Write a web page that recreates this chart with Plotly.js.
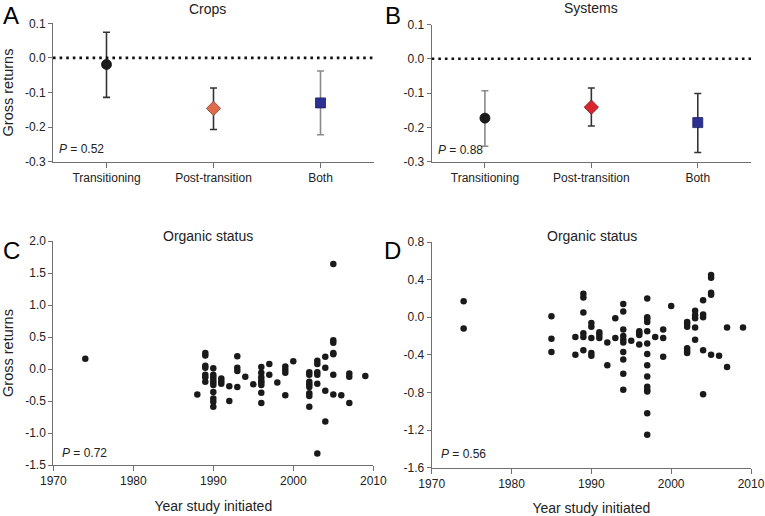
<!DOCTYPE html>
<html>
<head>
<meta charset="utf-8">
<script src="https://cdn.plot.ly/plotly-3.0.1.min.js"></script>
<style>html,body{margin:0;padding:0;background:#fff;}#chart{width:765px;height:516px;}</style>
</head>
<body>
<div id="chart"></div>
<script>
// ---------- DATA ----------
var groups = ["Transitioning", "Post-transition", "Both"];

// Panel A: Crops
var cropsMean  = [-0.019, -0.146, -0.130];
var cropsUpper = [0.074, -0.087, -0.038];
var cropsLower = [-0.114, -0.207, -0.222];

// Panel B: Systems
var sysMean  = [-0.173, -0.141, -0.186];
var sysUpper = [-0.093, -0.085, -0.101];
var sysLower = [-0.255, -0.196, -0.273];

var topTickVals = [-0.3, -0.2, -0.1, 0, 0.1];
var topTickText = ["-0.3", "-0.2", "-0.1", "0.0", "0.1"];

// Panel C: crops, gross returns vs year study initiated
var cYears = [1974, 1988,
  1989,1989,1989,1989,1989,1989,1989,
  1990,1990,1990,1990,1990,1990,1990,1990,1990,1990,
  1991,1991,1991, 1992,1992, 1993,1993,1993,1993, 1994, 1995,
  1996,1996,1996,1996,1996,1996,1996,1996,
  1997,1997, 1998, 1999,1999,1999,1999, 2000,
  2002,2002,2002,2002,2002,2002,2002,2002,
  2003,2003,2003,2003,2003,2003,
  2004,2004,2004,2004,
  2005,2005,2005,2005,2005,2005,2005,
  2006, 2007,2007,2007, 2009];
var cValues = [0.16, -0.40,
  0.25,0.21,0.05,0.02,-0.09,-0.13,-0.20,
  0.01,-0.09,-0.13,-0.17,-0.21,-0.25,-0.36,-0.46,-0.51,-0.59,
  -0.15,-0.19,-0.23, -0.27,-0.50, 0.20,0.02,-0.03,-0.28, -0.12, -0.24,
  0.03,-0.06,-0.13,-0.18,-0.21,-0.25,-0.37,-0.53,
  0.08,-0.09, -0.21, 0.04,-0.01,-0.06,-0.41, 0.12,
  -0.05,-0.09,-0.20,-0.24,-0.28,-0.38,-0.42,-0.59,
  0.13,0.08,-0.05,-0.09,-0.23,-1.32,
  0.19,0.02,-0.34,-0.82,
  1.64,0.45,0.41,0.25,0.23,-0.09,-0.40,
  -0.41, -0.07,-0.12,-0.53, -0.11];
var cTickVals = [-1.5, -1.0, -0.5, 0, 0.5, 1.0, 1.5, 2.0];
var cTickText = ["-1.5", "-1.0", "-0.5", "0.0", "0.5", "1.0", "1.5", "2.0"];

// Panel D: systems, gross returns vs year study initiated
var dYears = [1974,1974, 1985,1985,1985, 1988,1988,
  1989,1989,1989,1989,1989,1989,
  1990,1990,1990,1990,1990,
  1991,1991,1991, 1992,1992, 1993,1993,
  1994,1994,1994,1994,1994,1994,1994,1994,1994,1994,
  1995, 1996,1996,1996,1996,
  1997,1997,1997,1997,1997,1997,1997,1997,1997,1997,1997,1997,1997,1997,
  1998, 1999,1999,1999, 2000,
  2002,2002,2002,2002,2002,2002,
  2003,2003,2003,2003,2003,
  2004,2004,2004,2004,2004,
  2005,2005,2005,2005,2005,
  2006, 2007,2007, 2009];
var dValues = [0.17,-0.12, 0.01,-0.23,-0.37, -0.21,-0.40,
  0.25,0.21,0.05,-0.17,-0.21,-0.35,
  -0.06,-0.10,-0.22,-0.38,-0.41,
  -0.16,-0.19,-0.22, -0.27,-0.51, -0.01,-0.22,
  0.14,0.06,-0.13,-0.20,-0.24,-0.27,-0.37,-0.45,-0.60,-0.77,
  -0.25, -0.15,-0.17,-0.19,-0.29,
  0.20,0.00,-0.02,-0.05,-0.15,-0.28,-0.39,-0.51,-0.63,-0.74,-0.77,-0.79,-1.02,-1.25,
  -0.21, -0.13,-0.22,-0.42, 0.12,
  -0.05,-0.07,-0.10,-0.33,-0.36,-0.38,
  0.07,0.02,-0.01,-0.11,-0.24,
  0.18,0.03,0.00,-0.35,-0.82,
  0.45,0.42,0.26,0.24,-0.40,
  -0.41, -0.11,-0.53, -0.11];
var dTickVals = [-1.6, -1.2, -0.8, -0.4, 0, 0.4, 0.8];
var dTickText = ["-1.6", "-1.2", "-0.8", "-0.4", "0.0", "0.4", "0.8"];

var yearTicks = [1970, 1980, 1990, 2000, 2010];

// ---------- STYLE ----------
var FONT = "Liberation Sans, Arial, Helvetica, sans-serif";
var AX = "#707070";
var TXT = "#222222";
var symbols = ["circle", "diamond", "square"];
var cropsFill = ["#1c1c1c", "#E06A4C", "#2E3192"];
var cropsLine = ["#111111", "#8a3b27", "#1d1f66"];
var sysFill = ["#1c1c1c", "#D7262E", "#2E3192"];
var sysLine = ["#111111", "#7d1116", "#1d1f66"];
var cropsErrColor = ["#333333", "#333333", "#8a8a8a"];
var sysErrColor = ["#8a8a8a", "#333333", "#333333"];

var traces = [];
function addGroupTraces(mean, upper, lower, fills, lines, errCols, xa, ya) {
  for (var i = 0; i < groups.length; i++) {
    traces.push({
      type: "scatter", mode: "markers", xaxis: xa, yaxis: ya,
      x: [groups[i]], y: [mean[i]],
      error_y: {type: "data", symmetric: false,
        array: [upper[i] - mean[i]], arrayminus: [mean[i] - lower[i]],
        color: errCols[i], thickness: 1.6, width: 3.5},
      marker: {symbol: symbols[i], size: (symbols[i] === "diamond" ? 11 : 10),
        color: fills[i], line: {color: lines[i], width: 0.8}},
      showlegend: false, hoverinfo: "x+y"
    });
  }
}
addGroupTraces(cropsMean, cropsUpper, cropsLower, cropsFill, cropsLine, cropsErrColor, "x", "y");
addGroupTraces(sysMean, sysUpper, sysLower, sysFill, sysLine, sysErrColor, "x2", "y2");

traces.push({type: "scatter", mode: "markers", xaxis: "x3", yaxis: "y3",
  x: cYears, y: cValues, marker: {color: "#1a1a1a", size: 6.5}, showlegend: false});
traces.push({type: "scatter", mode: "markers", xaxis: "x4", yaxis: "y4",
  x: dYears, y: dValues, marker: {color: "#1a1a1a", size: 6.5}, showlegend: false});

function baseAxis(extra) {
  var a = {showline: true, linecolor: AX, linewidth: 1, showgrid: false, zeroline: false,
    ticks: "outside", tickcolor: AX, ticklen: 4, tickwidth: 1,
    tickfont: {family: FONT, size: 12, color: TXT}, fixedrange: true};
  for (var k in extra) a[k] = extra[k];
  return a;
}

var W = 765, H = 516;
function px(v) { return v / W; }
function py(v) { return 1 - v / H; }

var layout = {
  width: W, height: H,
  margin: {l: 0, r: 0, t: 0, b: 0},
  paper_bgcolor: "#fff", plot_bgcolor: "#fff",
  font: {family: FONT, color: TXT},
  showlegend: false,
  xaxis: baseAxis({domain: [px(53), px(374)], anchor: "y", type: "category",
    range: [-0.5, 2.5], ticklen: 5}),
  yaxis: baseAxis({domain: [py(161.7), py(23.3)], anchor: "x", range: [-0.3, 0.1],
    tickvals: topTickVals, ticktext: topTickText,
    title: {text: "Gross returns", font: {family: FONT, size: 14.5, color: TXT}, standoff: 8}}),
  xaxis2: baseAxis({domain: [px(431.7), px(751)], anchor: "y2", type: "category",
    range: [-0.5, 2.5], ticklen: 5}),
  yaxis2: baseAxis({domain: [py(161.7), py(24.5)], anchor: "x2", range: [-0.3, 0.1],
    tickvals: topTickVals, ticktext: topTickText}),
  xaxis3: baseAxis({domain: [px(53.3), px(373.3)], anchor: "y3", range: [1970, 2010],
    tickvals: yearTicks, ticklen: 5,
    title: {text: "Year study initiated", font: {family: FONT, size: 14, color: TXT}, standoff: 13}}),
  yaxis3: baseAxis({domain: [py(465), py(241)], anchor: "x3", range: [-1.5, 2.0],
    tickvals: cTickVals, ticktext: cTickText,
    title: {text: "Gross returns", font: {family: FONT, size: 14.5, color: TXT}, standoff: 8}}),
  xaxis4: baseAxis({domain: [px(431.7), px(751)], anchor: "y4", range: [1970, 2010],
    tickvals: yearTicks, ticklen: 5,
    title: {text: "Year study initiated", font: {family: FONT, size: 14, color: TXT}, standoff: 13}}),
  yaxis4: baseAxis({domain: [py(467.7), py(242)], anchor: "x4", range: [-1.6, 0.8],
    tickvals: dTickVals, ticktext: dTickText}),
  shapes: [
    {type: "line", xref: "x domain", yref: "y", x0: 0, x1: 1, y0: 0, y1: 0,
      line: {color: "#111", width: 2.6, dash: "2.6px,4px"}},
    {type: "line", xref: "x2 domain", yref: "y2", x0: 0, x1: 1, y0: 0, y1: 0,
      line: {color: "#111", width: 2.6, dash: "2.6px,4px"}}
  ],
  annotations: [
    {text: "A", xref: "paper", yref: "paper", x: px(11), y: py(15), xanchor: "center", yanchor: "middle",
      showarrow: false, font: {family: FONT, size: 24, color: "#000"}},
    {text: "B", xref: "paper", yref: "paper", x: px(393), y: py(15), xanchor: "center", yanchor: "middle",
      showarrow: false, font: {family: FONT, size: 24, color: "#000"}},
    {text: "C", xref: "paper", yref: "paper", x: px(11), y: py(250), xanchor: "center", yanchor: "middle",
      showarrow: false, font: {family: FONT, size: 24, color: "#000"}},
    {text: "D", xref: "paper", yref: "paper", x: px(393), y: py(250), xanchor: "center", yanchor: "middle",
      showarrow: false, font: {family: FONT, size: 24, color: "#000"}},
    {text: "Crops", xref: "paper", yref: "paper", x: px(208), y: py(9), xanchor: "center", yanchor: "middle",
      showarrow: false, font: {family: FONT, size: 14, color: TXT}},
    {text: "Systems", xref: "paper", yref: "paper", x: px(591), y: py(8), xanchor: "center", yanchor: "middle",
      showarrow: false, font: {family: FONT, size: 14, color: TXT}},
    {text: "Organic status", xref: "paper", yref: "paper", x: px(208), y: py(236), xanchor: "center", yanchor: "middle",
      showarrow: false, font: {family: FONT, size: 14, color: TXT}},
    {text: "Organic status", xref: "paper", yref: "paper", x: px(592), y: py(236), xanchor: "center", yanchor: "middle",
      showarrow: false, font: {family: FONT, size: 14, color: TXT}},
    {text: "<i>P</i> = 0.52", xref: "x domain", yref: "y domain", x: 0.013, y: 0.092, xanchor: "left", yanchor: "middle",
      showarrow: false, font: {family: FONT, size: 12, color: TXT}},
    {text: "<i>P</i> = 0.88", xref: "x2 domain", yref: "y2 domain", x: 0.013, y: 0.085, xanchor: "left", yanchor: "middle",
      showarrow: false, font: {family: FONT, size: 12, color: TXT}},
    {text: "<i>P</i> = 0.72", xref: "x3 domain", yref: "y3 domain", x: 0.022, y: 0.054, xanchor: "left", yanchor: "middle",
      showarrow: false, font: {family: FONT, size: 12, color: TXT}},
    {text: "<i>P</i> = 0.56", xref: "x4 domain", yref: "y4 domain", x: 0.022, y: 0.06, xanchor: "left", yanchor: "middle",
      showarrow: false, font: {family: FONT, size: 12, color: TXT}}
  ]
};

Plotly.newPlot("chart", traces, layout, {displayModeBar: false, staticPlot: true});
</script>
</body>
</html>
